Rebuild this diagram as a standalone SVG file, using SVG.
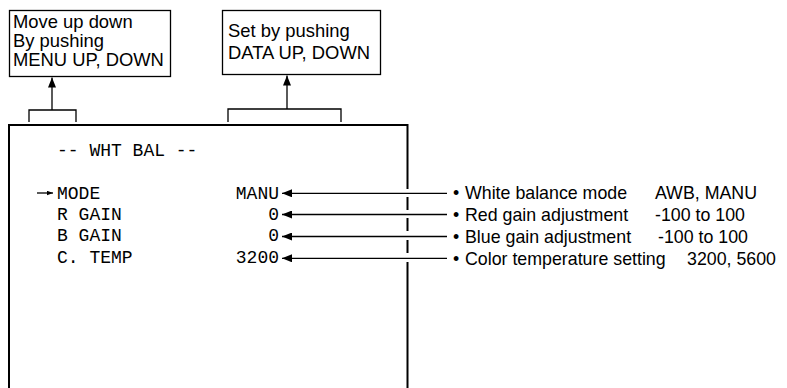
<svg xmlns="http://www.w3.org/2000/svg" width="787" height="388" viewBox="0 0 787 388">
<style>
.box{fill:#fff;stroke:#000;stroke-width:1.3}
.frame{fill:none;stroke:#000;stroke-width:2}
.lbl{font-family:"Liberation Sans",Arial,sans-serif;font-size:18.4px;fill:#000}
.note{font-family:"Liberation Sans",Arial,sans-serif;font-size:17.8px;fill:#000}
.mono{font-family:"Liberation Mono","Courier New",monospace;font-size:18px;fill:#000}
.ln{fill:none;stroke:#000;stroke-width:1.3}
</style>
<defs>
<marker id="ah" viewBox="0 0 10 8" refX="10" refY="4" markerWidth="10" markerHeight="8" markerUnits="userSpaceOnUse" orient="auto">
<path d="M0,0 L10,4 L0,8 Z" fill="#000"/>
</marker>
<marker id="ahs" viewBox="0 0 8 6" refX="8" refY="3" markerWidth="6" markerHeight="5" markerUnits="userSpaceOnUse" orient="auto">
<path d="M0,0 L8,3 L0,6 Z" fill="#000"/>
</marker>
</defs>
<rect width="787" height="388" fill="#fff"/>

<g id="menu-box">
<rect class="box" x="9.5" y="10.5" width="161" height="66"/>
<text class="lbl" x="13" y="28">Move up down</text>
<text class="lbl" x="13" y="47">By pushing</text>
<text class="lbl" x="13" y="66">MENU UP, DOWN</text>
</g>

<g id="data-box">
<rect class="box" x="222.5" y="10.5" width="158" height="64"/>
<text class="lbl" x="228" y="37">Set by pushing</text>
<text class="lbl" x="228" y="59">DATA UP, DOWN</text>
</g>

<g id="screen">
<path class="frame" d="M9,390 V125 H407.5 V189"/>
<path class="frame" d="M407.5,197 V210 M407.5,218 V231 M407.5,240 V253 M407.5,262 V390"/>
<text class="mono" x="57" y="156" xml:space="preserve">-- WHT BAL --</text>
<text class="mono" x="57" y="199">MODE</text>
<text class="mono" x="57" y="220">R GAIN</text>
<text class="mono" x="57" y="241">B GAIN</text>
<text class="mono" x="57" y="263">C. TEMP</text>
<text class="mono" x="279" y="199" text-anchor="end">MANU</text>
<text class="mono" x="279" y="220" text-anchor="end">0</text>
<text class="mono" x="279" y="241" text-anchor="end">0</text>
<text class="mono" x="279" y="263" text-anchor="end">3200</text>
</g>

<g id="notes">
<text class="note" x="453" y="199">•</text>
<text class="note" x="465" y="199">White balance mode</text>
<text class="note" x="757" y="199" text-anchor="end">AWB, MANU</text>
<text class="note" x="453" y="221">•</text>
<text class="note" x="465" y="221">Red gain adjustment</text>
<text class="note" x="745" y="221" text-anchor="end">-100 to 100</text>
<text class="note" x="453" y="243">•</text>
<text class="note" x="465" y="243">Blue gain adjustment</text>
<text class="note" x="748" y="243" text-anchor="end">-100 to 100</text>
<text class="note" x="453" y="265">•</text>
<text class="note" x="465" y="265">Color temperature setting</text>
<text class="note" x="776" y="265" text-anchor="end">3200, 5600</text>
</g>

<g id="connectors">
<path class="ln" d="M29,122 V110 H76 V122"/>
<path class="ln" d="M52,110 V77.5" marker-end="url(#ah)"/>
<path class="ln" d="M228,122 V109 H341 V122"/>
<path class="ln" d="M287,109 V75.5" marker-end="url(#ah)"/>
<path class="ln" d="M37,193 H53" marker-end="url(#ahs)"/>
<path class="ln" d="M447,193.3 H282" marker-end="url(#ah)"/>
<path class="ln" d="M447,214.5 H282" marker-end="url(#ah)"/>
<path class="ln" d="M447,236.5 H282" marker-end="url(#ah)"/>
<path class="ln" d="M447,258.3 H282" marker-end="url(#ah)"/>
</g>
</svg>
